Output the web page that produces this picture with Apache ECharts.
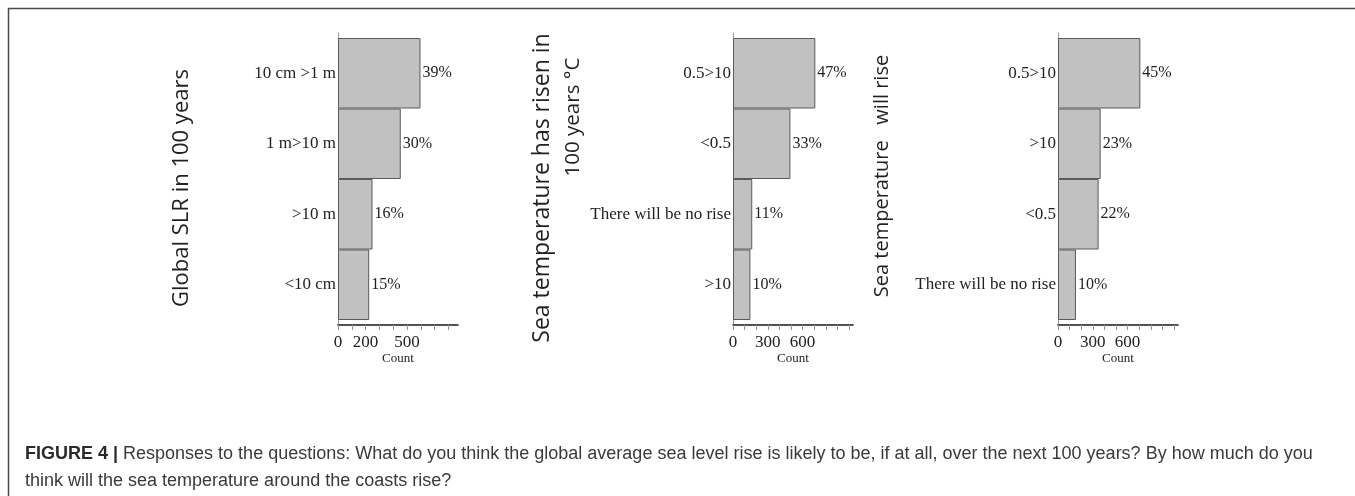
<!DOCTYPE html>
<html>
<head>
<meta charset="utf-8">
<script src="https://cdn.jsdelivr.net/npm/echarts@6/dist/echarts.min.js"></script>
<style>
html,body{margin:0;padding:0;background:#fff;}
#chart{width:1355px;height:496px;}
</style>
</head>
<body>
<div id="chart"></div>
<script>
// ---- data ----
var cats1 = ['10 cm >1 m', '1 m>10 m', '>10 m', '<10 cm'];
var vals1 = [598, 455, 250, 226];
var pct1 = ['39%', '30%', '16%', '15%'];

var cats2 = ['0.5>10', '<0.5', 'There will be no rise', '>10'];
var vals2 = [710, 495, 166, 150];
var pct2 = ['47%', '33%', '11%', '10%'];

var cats3 = ['0.5>10', '>10', '<0.5', 'There will be no rise'];
var vals3 = [710, 368, 350, 155];
var pct3 = ['45%', '23%', '22%', '10%'];

var tickLabels1 = [0, 200, 500];
var tickLabels2 = [0, 300, 600];
var tickLabels3 = [0, 300, 600];
var ticks1 = [0, 100, 200, 300, 400, 500, 600, 700, 800];
var ticks2 = [0, 100, 200, 300, 400, 500, 600, 700, 800, 900, 1000];
var ticks3 = [0, 100, 200, 300, 400, 500, 600, 700, 800, 900, 1000];
var axisMax = [870, 1035, 1035];

var titles = ['Global SLR in 100 years', 'Sea temperature has risen in', '100 years °C', 'Sea temperature   will rise'];
var caption1 = 'Responses to the questions: What do you think the global average sea level rise is likely to be, if at all, over the next 100 years? By how much do you';
var caption2 = 'think will the sea temperature around the coasts rise?';

// ---- layout ----
var SERIF = '"Liberation Serif", "Times New Roman", serif';
var SANS = '"Open Sans", "Noto Sans", sans-serif';
var CAP = '"Liberation Sans", Arial, sans-serif';
var lefts = [338, 733, 1058];
var W = 120;
var cats = [cats1, cats2, cats3];
var vals = [vals1, vals2, vals3];
var pcts = [pct1, pct2, pct3];
var tickLabels = [tickLabels1, tickLabels2, tickLabels3];
var ticks = [ticks1, ticks2, ticks3];

var grid = [], xAxis = [], yAxis = [], series = [];
for (var i = 0; i < 3; i++) {
  grid.push({left: lefts[i], top: 38, width: W, height: 282});
  xAxis.push({
    type: 'value', gridIndex: i, min: 0, max: axisMax[i], interval: 100, offset: 5,
    splitLine: {show: false},
    axisLine: {show: true, lineStyle: {color: '#1a1a1a', width: 1.5}},
    axisTick: {show: true, length: 5, customValues: ticks[i], lineStyle: {color: '#999'}},
    axisLabel: {customValues: tickLabels[i], fontFamily: SERIF, fontSize: 17, color: '#222', margin: 9},
    name: 'Count', nameLocation: 'middle', nameGap: 27, nameMoveOverlap: false,
    nameTextStyle: {fontFamily: SERIF, fontSize: 13, color: '#222'}
  });
  yAxis.push({
    type: 'category', gridIndex: i, data: cats[i], inverse: true,
    axisLine: {show: false},
    axisTick: {show: false},
    axisLabel: {fontFamily: SERIF, fontSize: 17, color: '#222', margin: 2}
  });
  (function (k) {
    series.push({
      type: 'bar', xAxisIndex: k, yAxisIndex: k, data: vals[k],
      barCategoryGap: '0%',
      itemStyle: {color: '#c1c1c1', borderColor: '#5a5a5a', borderWidth: 1},
      label: {
        show: true, position: 'right', distance: 2,
        fontFamily: SERIF, fontSize: 16, color: '#222',
        formatter: function (p) { return pcts[k][p.dataIndex]; }
      },
      silent: true, animation: false
    });
  })(i);
}
for (var j = 0; j < 3; j++) {
  grid.push({left: lefts[j], top: 33, width: W, height: 292});
  xAxis.push({type: 'value', gridIndex: 3 + j, show: false});
  yAxis.push({
    type: 'value', gridIndex: 3 + j, min: 0, max: 1,
    axisLine: {show: true, lineStyle: {color: '#9a9a9a', width: 1}},
    axisTick: {show: false}, axisLabel: {show: false}, splitLine: {show: false}
  });
}

var graphic = [
  {type: 'rect', shape: {x: 8.5, y: 8.5, width: 1400, height: 600}, style: {fill: null, stroke: '#4a4a4a', lineWidth: 1.5}, silent: true},
  {type: 'text', x: 182, y: 188, rotation: Math.PI / 2, style: {text: titles[0], font: '22px ' + SANS, fill: '#231f20', align: 'center', verticalAlign: 'middle'}},
  {type: 'text', x: 542, y: 188, rotation: Math.PI / 2, style: {text: titles[1], font: '23px ' + SANS, fill: '#231f20', align: 'center', verticalAlign: 'middle'}},
  {type: 'text', x: 573, y: 117, rotation: Math.PI / 2, style: {text: titles[2], font: '20.5px ' + SANS, fill: '#231f20', align: 'center', verticalAlign: 'middle'}},
  {type: 'text', x: 882, y: 176, rotation: Math.PI / 2, style: {text: titles[3], font: '20px ' + SANS, fill: '#231f20', align: 'center', verticalAlign: 'middle'}},
  {type: 'text', x: 25, y: 454, style: {
    text: '{b|FIGURE 4 |} ' + caption1, verticalAlign: 'middle', align: 'left',
    font: '18px ' + CAP, fill: '#3a3a3a',
    rich: {b: {fontWeight: 'bold', fontSize: 18, fontFamily: CAP, fill: '#2a2a2a'}}
  }},
  {type: 'text', x: 25, y: 481, style: {
    text: caption2, verticalAlign: 'middle', align: 'left',
    font: '18px ' + CAP, fill: '#3a3a3a'
  }}
];

var chart = echarts.init(document.getElementById('chart'), null, {renderer: 'canvas'});
chart.setOption({
  backgroundColor: '#fff',
  animation: false,
  grid: grid, xAxis: xAxis, yAxis: yAxis, series: series, graphic: graphic
});
</script>
</body>
</html>
